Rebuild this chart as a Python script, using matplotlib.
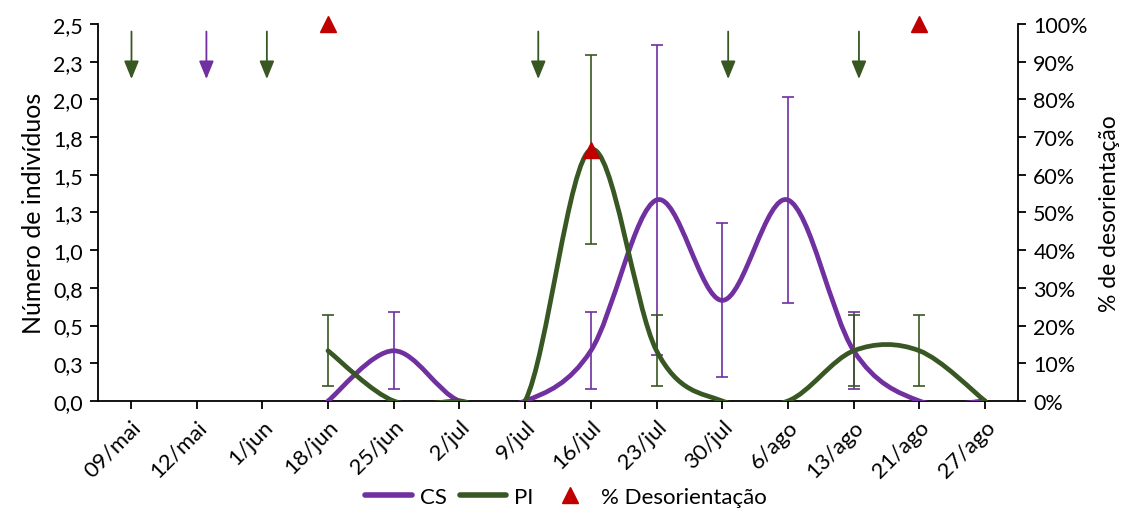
import numpy as np
import matplotlib.pyplot as plt
from matplotlib.path import Path
from matplotlib.patches import PathPatch
from matplotlib.lines import Line2D
from matplotlib.ticker import FuncFormatter
from decimal import Decimal, ROUND_HALF_UP

plt.rcParams['font.family'] = ['Lato', 'DejaVu Sans']

# dados
datas = ["09/mai", "12/mai", "1/jun", "18/jun", "25/jun", "2/jul", "9/jul",
         "16/jul", "23/jul", "30/jul", "6/ago", "13/ago", "21/ago", "27/ago"]
cs = [np.nan, np.nan, np.nan, 0, 0.333, 0, 0, 0.333, 1.333, 0.667, 1.333, 0.333, 0, 0]
cs_err = [0, 0, 0, 0, 0.256, 0, 0, 0.256, 1.03, 0.51, 0.68, 0.256, 0, 0]
pi = [np.nan, np.nan, np.nan, 0.333, 0, 0, 0, 1.667, 0.333, 0, 0, 0.333, 0.333, 0]
pi_err = [0, 0, 0, 0.236, 0, 0, 0, 0.625, 0.236, 0, 0, 0.236, 0.236, 0]
desor = [np.nan, np.nan, np.nan, 1.0, np.nan, np.nan, np.nan, 0.667,
         np.nan, np.nan, np.nan, np.nan, 1.0, np.nan]

# setas de aplicação (posição x em índice de categoria, cor)
setas_x = [0.01, 1.15, 2.07, 6.2, 9.09, 11.08]
setas_cor = ["g", "p", "g", "g", "g", "g"]

roxo = "#7030A0"
verde = "#385723"
vermelho = "#C00000"


def curva_suave(xs, ys):
    # linha suavizada estilo Excel (bezier cúbica tipo Catmull-Rom)
    pts = [(x, y) for x, y in zip(xs, ys) if not np.isnan(y)]
    pts = np.array(pts, dtype=float)
    n = len(pts)
    verts = [tuple(pts[0])]
    codes = [Path.MOVETO]
    for i in range(n - 1):
        p0 = pts[i - 1] if i > 0 else pts[i]
        p1 = pts[i]
        p2 = pts[i + 1]
        p3 = pts[i + 2] if i + 2 < n else pts[i + 1]
        c1 = p1 + (p2 - p0) / 6
        c2 = p2 - (p3 - p1) / 6
        verts += [tuple(c1), tuple(c2), tuple(p2)]
        codes += [Path.CURVE4] * 3
    return Path(verts, codes)


def fmt_virgula(v, p):
    d = Decimal(str(round(v, 4))).quantize(Decimal("0.1"), rounding=ROUND_HALF_UP)
    return str(d).replace(".", ",")


x = np.arange(len(datas))

fig = plt.figure(figsize=(11.21, 5.10), dpi=100)
ax = fig.add_axes([0.0874, 0.2118, 0.8207, 0.7392])

for serie, err, cor in [(cs, cs_err, roxo), (pi, pi_err, verde)]:
    serie = np.array(serie, dtype=float)
    err = np.array(err, dtype=float)
    m = err > 0
    ax.errorbar(x[m], serie[m], yerr=err[m], fmt='none', ecolor=cor,
                elinewidth=1.2, capsize=4.5, capthick=1.2, zorder=2)
    patch = PathPatch(curva_suave(x, serie), facecolor='none', edgecolor=cor,
                      lw=3.4, capstyle='round', zorder=3)
    ax.add_patch(patch)

ax.set_xlim(-0.5, 13.5)
ax.set_ylim(0, 2.5)
ax.set_yticks(np.arange(0, 2.51, 0.25))
ax.yaxis.set_major_formatter(FuncFormatter(fmt_virgula))
ax.set_xticks(x)
ax.set_xticklabels(datas, rotation=45, ha='right', rotation_mode='anchor')
ax.set_ylabel("Número de indivíduos", fontsize=18, labelpad=6)

# setas
for sx, sc in zip(setas_x, setas_cor):
    cor = verde if sc == "g" else roxo
    ax.annotate("", xy=(sx, 2.135), xytext=(sx, 2.45),
                arrowprops=dict(arrowstyle="-|>,head_width=0.45,head_length=1.1",
                                color=cor, lw=1.3, shrinkA=0, shrinkB=0),
                zorder=4)

ax2 = ax.twinx()
ax2.plot(x, desor, linestyle='none', marker='^', markersize=11,
         color=vermelho, clip_on=False, zorder=5)
ax2.set_ylim(0, 1)
ax2.set_yticks(np.arange(0, 1.01, 0.1))
ax2.yaxis.set_major_formatter(FuncFormatter(lambda v, p: f"{v*100:.0f}%"))
ax2.set_ylabel("% de desorientação", fontsize=16.5, labelpad=8)

for a in (ax, ax2):
    a.spines['top'].set_visible(False)
    for s in ['left', 'right', 'bottom']:
        a.spines[s].set_linewidth(1.3)
    a.tick_params(axis='both', labelsize=15.5, width=1.3, length=6, direction='out')
ax.spines['right'].set_visible(False)
ax2.spines['left'].set_visible(False)
ax2.spines['bottom'].set_visible(False)
ax.tick_params(axis='x', pad=5, labelsize=16)
ax.tick_params(axis='y', pad=5)
ax2.tick_params(axis='y', pad=5)

handles = [Line2D([], [], color=roxo, lw=4, solid_capstyle='round'),
           Line2D([], [], color=verde, lw=4, solid_capstyle='round'),
           Line2D([], [], color=vermelho, marker='^', markersize=11, linestyle='none')]
fig.legend(handles, ["CS", "PI", "% Desorientação"], loc='lower center',
           bbox_to_anchor=(0.505, -0.035), ncol=3, frameon=False, fontsize=16,
           handlelength=2.1, columnspacing=0.6, handletextpad=0.35)

fig.savefig("out.png", dpi=100)
